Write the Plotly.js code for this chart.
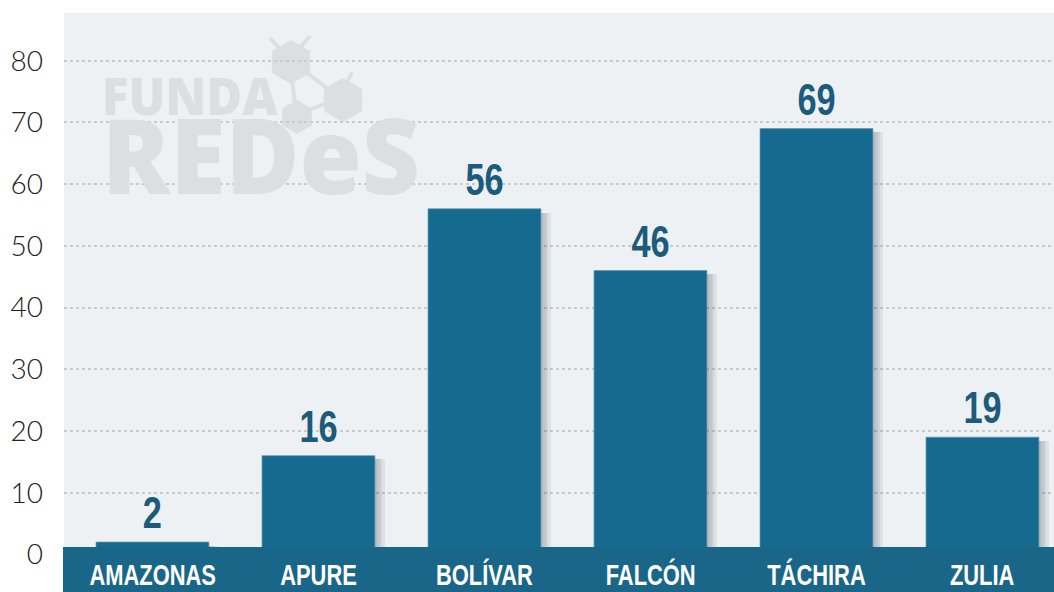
<!DOCTYPE html>
<html><head><meta charset="utf-8">
<script src="https://cdn.plot.ly/plotly-3.0.1.min.js"></script>
<style>html,body{margin:0;padding:0;background:#fff}#chart{width:1054px;height:592px}</style>
</head><body><div id="chart"></div>
<script>
const categories = ["AMAZONAS", "APURE", "BOLÍVAR", "FALCÓN", "TÁCHIRA", "ZULIA"];
const values = [2, 16, 56, 46, 69, 19];
const yTicks = [0, 10, 20, 30, 40, 50, 60, 70, 80];

const W = 1054, H = 592, L = 64, T = 13;
const PW = W - L, PH = H - T;
const px = x => (x - L) / PW;
const py = y => (H - y) / PH;
const idx = categories.map((c, i) => i);

const BAR = '#176a8f', BAND = '#1a6689', LABEL = '#1b5b7b', WM = '#dcdee0';
const CONDENSED = 'Liberation Sans, Arial, sans-serif';

const traces = [];
[0.015, 0.03, 0.045, 0.06].forEach(o => {
  traces.push({type: 'bar', x: idx, y: values.map(v => v - 0.6), base: 0, width: 0.68, offset: -0.34 + o,
    marker: {color: 'rgba(20,30,50,0.07)'}, hoverinfo: 'skip', showlegend: false});
});
traces.push({type: 'bar', x: idx, y: values, width: 0.68, marker: {color: BAR, line: {color: 'rgba(90,150,185,0.7)', width: 1}},
  showlegend: false});

const annotations = [];
const squeeze = []; // [annotation index, horizontal scale]
categories.forEach((c, i) => {
  squeeze.push([annotations.length, 0.78]);
  annotations.push({x: i, y: values[i], xref: 'x', yref: 'y', yanchor: 'bottom', yshift: 3, text: String(values[i]),
    showarrow: false, font: {family: CONDENSED, size: 44, color: LABEL, weight: 700}});
  squeeze.push([annotations.length, 0.73]);
  annotations.push({x: i, y: py(574), xref: 'x', yref: 'paper', yanchor: 'middle', text: c,
    showarrow: false, font: {family: CONDENSED, size: 30, color: '#ffffff', weight: 700}});
});
// watermark (one text block, two lines)
squeeze.push([annotations.length, 0.96, 'left']);
annotations.push({x: px(100), y: py(142), xref: 'paper', yref: 'paper', xanchor: 'left', yanchor: 'middle', align: 'left',
  text: '<span style="font-size:51px">FUNDA</span><br><span style="font-size:105px">REDeS</span>',
  showarrow: false, font: {family: 'Open Sans, DejaVu Sans, sans-serif', size: 61, color: WM, weight: 800}});

function hex(cx, cy, r) {
  let d = '';
  for (let k = 0; k < 6; k++) {
    const a = Math.PI / 3 * k + Math.PI / 6;
    const x = cx + r * Math.cos(a), y = cy + r * Math.sin(a);
    d += (k ? 'L' : 'M') + px(x).toFixed(5) + ',' + py(y).toFixed(5);
  }
  return d + 'Z';
}
function seg(x0, y0, x1, y1) {
  return {type: 'line', xref: 'paper', yref: 'paper', x0: px(x0), y0: py(y0), x1: px(x1), y1: py(y1),
    line: {color: WM, width: 4}, layer: 'below'};
}
const shapes = [
  seg(270, 38, 290, 60), seg(310, 36, 290, 60), seg(290, 60, 340, 98), seg(290, 60, 296, 115), seg(340, 98, 352, 72), seg(296, 115, 340, 98),
  {type: 'path', xref: 'paper', yref: 'paper', path: hex(291, 62, 22), fillcolor: WM, line: {width: 0}, layer: 'below'},
  {type: 'path', xref: 'paper', yref: 'paper', path: hex(343, 100, 22), fillcolor: WM, line: {width: 0}, layer: 'below'},
  {type: 'path', xref: 'paper', yref: 'paper', path: hex(297, 117, 17), fillcolor: WM, line: {width: 0}, layer: 'below'},
  {type: 'rect', xref: 'paper', yref: 'paper', x0: px(63), x1: 1, y0: 0, y1: py(547), fillcolor: BAND, line: {width: 0}, layer: 'above'}
];

const layout = {
  width: W, height: H,
  margin: {l: L, r: 0, t: T, b: 0, pad: 0},
  paper_bgcolor: '#ffffff', plot_bgcolor: '#eef1f3',
  barmode: 'overlay', bargap: 0,
  xaxis: {range: [-0.533, 5.431], showticklabels: false, showgrid: false, zeroline: false, fixedrange: true},
  yaxis: {range: [-6.09, 87.73], tickvals: yTicks, ticktext: yTicks.map(String), showgrid: true, gridcolor: '#c9cacc', gridwidth: 2,
    griddash: 'dot', zeroline: false, ticklabelstandoff: 20,
    tickfont: {family: 'Lato, Noto Sans, sans-serif', size: 28, color: '#222222', weight: 300}},
  shapes: shapes, annotations: annotations
};
Plotly.newPlot('chart', traces, layout, {displayModeBar: false, staticPlot: true}).then(gd => {
  const groups = gd.querySelectorAll('g.annotation');
  squeeze.forEach(([i, s, anchor]) => {
    const g = groups[i];
    if (!g) return;
    const t = g.querySelector('text.annotation-text');
    if (!t) return;
    const b = t.getBBox();
    const cx = anchor === 'left' ? b.x : b.x + b.width / 2;
    const prev = t.getAttribute('transform') || '';
    t.setAttribute('transform', `translate(${cx},0) scale(${s},1) translate(${-cx},0) ${prev}`);
  });
});
</script></body></html>
